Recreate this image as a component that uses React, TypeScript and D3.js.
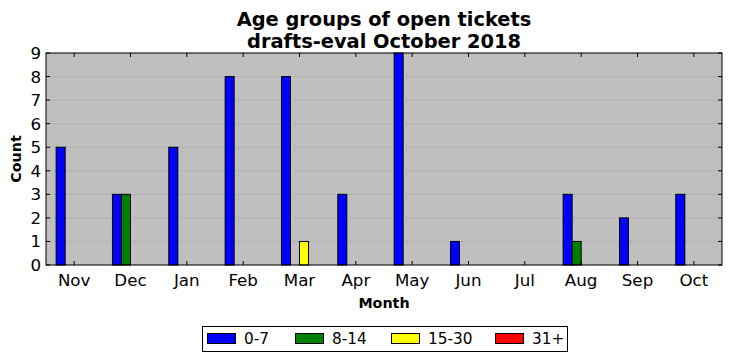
import React from "react";
import * as d3 from "d3";

const months = ["Nov", "Dec", "Jan", "Feb", "Mar", "Apr", "May", "Jun", "Jul", "Aug", "Sep", "Oct"];
const seriesNames = ["0-7", "8-14", "15-30", "31+"];
const colors = ["#0000ff", "#008000", "#ffff00", "#ff0000"];
const age0to7 = [5, 3, 5, 8, 8, 3, 9, 1, 0, 3, 2, 3];
const age8to14 = [0, 3, 0, 0, 0, 0, 0, 0, 0, 1, 0, 0];
const age15to30 = [0, 0, 0, 0, 1, 0, 0, 0, 0, 0, 0, 0];
const age31plus = [0, 0, 0, 0, 0, 0, 0, 0, 0, 0, 0, 0];
const yTicks = [0, 1, 2, 3, 4, 5, 6, 7, 8, 9];

const W = 732, H = 361;
const left = 46, right = 722, top = 53, bottom = 265;
const font = "DejaVu Sans, sans-serif";

export default function App() {
  const series = [age0to7, age8to14, age15to30, age31plus];
  const x = d3.scaleLinear().domain([-0.5, 11.5]).range([left, right]);
  const y = d3.scaleLinear().domain([0, 9]).range([bottom, top]);
  const bw = 0.16;
  return (
    <svg width={W} height={H} style={{ position: "absolute", left: 0, top: 0 }} fontFamily={font}>
      <rect x={0} y={0} width={W} height={H} fill="#fff" />
      <rect x={left} y={top} width={right - left} height={bottom - top} fill="#bfbfbf" />
      {yTicks.map((t) => (
        <line key={"g" + t} x1={left} x2={right} y1={y(t)} y2={y(t)} stroke="#000" strokeOpacity={0.35} strokeWidth={0.8} strokeDasharray="1,3" />
      ))}
      {series.map((vals, si) =>
        vals.map((v, i) => (
          <rect key={si + "-" + i} x={x(i + (si - 2) * bw)} y={y(v)} width={x(bw) - x(0)} height={y(0) - y(v)}
            fill={colors[si]} stroke="#000" strokeWidth={1} />
        ))
      )}
      {months.map((m, i) => (
        <g key={m}>
          <line x1={x(i)} x2={x(i)} y1={bottom} y2={bottom - 4} stroke="#000" />
          <line x1={x(i)} x2={x(i)} y1={top} y2={top + 4} stroke="#000" />
          <text x={x(i)} y={bottom + 21} textAnchor="middle" fontSize={16.7}>{m}</text>
        </g>
      ))}
      {yTicks.map((t) => (
        <g key={"y" + t}>
          <line x1={left} x2={left + 4} y1={y(t)} y2={y(t)} stroke="#000" />
          <line x1={right} x2={right - 4} y1={y(t)} y2={y(t)} stroke="#000" />
          <text x={left - 5} y={y(t) + 6} textAnchor="end" fontSize={16.7}>{t}</text>
        </g>
      ))}
      <rect x={left} y={top} width={right - left} height={bottom - top} fill="none" stroke="#000" strokeWidth={1} />
      <text x={(left + right) / 2} y={26} textAnchor="middle" fontSize={19.4} fontWeight="bold">Age groups of open tickets</text>
      <text x={(left + right) / 2} y={48} textAnchor="middle" fontSize={19.4} fontWeight="bold">drafts-eval October 2018</text>
      <text x={(left + right) / 2} y={308} textAnchor="middle" fontSize={14.3} fontWeight="bold">Month</text>
      <text transform={`translate(21,${(top + bottom) / 2}) rotate(-90)`} textAnchor="middle" fontSize={14.3} fontWeight="bold">Count</text>
      <g>
        <rect x={202.5} y={326.5} width={365} height={25} fill="#fff" stroke="#000" />
        {seriesNames.map((n, i) => {
          const lx = [207, 295, 391, 495][i];
          return (
            <g key={n}>
              <rect x={lx + 0.5} y={333.5} width={28} height={10} fill={colors[i]} stroke="#000" />
              <text x={lx + 37} y={344} fontSize={15.3}>{n}</text>
            </g>
          );
        })}
      </g>
    </svg>
  );
}
